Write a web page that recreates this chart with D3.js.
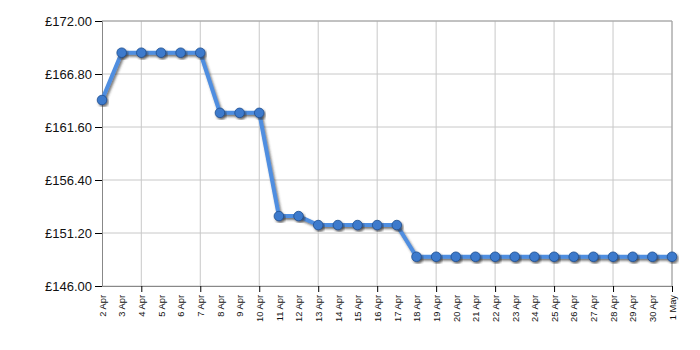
<!DOCTYPE html>
<html>
<head>
<meta charset="utf-8">
<script src="https://cdn.jsdelivr.net/npm/d3@7"></script>
<style>
  body { margin: 0; background: #fff; }
  svg { display: block; font-family: "DejaVu Sans", Verdana, sans-serif; }
</style>
</head>
<body>
<svg width="700" height="350"></svg>
<script>
const dates = ['2 Apr', '3 Apr', '4 Apr', '5 Apr', '6 Apr', '7 Apr', '8 Apr', '9 Apr', '10 Apr',
  '11 Apr', '12 Apr', '13 Apr', '14 Apr', '15 Apr', '16 Apr', '17 Apr', '18 Apr', '19 Apr',
  '20 Apr', '21 Apr', '22 Apr', '23 Apr', '24 Apr', '25 Apr', '26 Apr', '27 Apr', '28 Apr',
  '29 Apr', '30 Apr', '1 May']
const prices = [164.25, 168.89, 168.89, 168.89, 168.89, 168.89, 162.99, 162.99, 162.99,
  152.86, 152.86, 151.98, 151.98, 151.98, 151.98, 151.98, 148.87, 148.87,
  148.87, 148.87, 148.87, 148.87, 148.87, 148.87, 148.87, 148.87, 148.87,
  148.87, 148.87, 148.87]
const yTicks = [146, 151.2, 156.4, 161.6, 166.8, 172]
const gridDates = ['4 Apr', '7 Apr', '10 Apr', '13 Apr', '16 Apr', '19 Apr', '22 Apr', '25 Apr', '28 Apr', '1 May']

const svg = d3.select('svg')
const margin = { top: 21, right: 28, bottom: 64, left: 102 }
const width = +svg.attr('width')
const height = +svg.attr('height')
const innerW = width - margin.left - margin.right
const innerH = height - margin.top - margin.bottom

const x = d3.scalePoint().domain(dates).range([0, innerW])
const y = d3.scaleLinear().domain([146, 172]).range([innerH, 0])

const defs = svg.append('defs')
const shadow = defs.append('filter').attr('id', 'shadow')
  .attr('x', '-20%').attr('y', '-20%').attr('width', '140%').attr('height', '140%')
shadow.append('feDropShadow')
  .attr('dx', 1.5).attr('dy', 2).attr('stdDeviation', 0.9)
  .attr('flood-color', '#333').attr('flood-opacity', 0.65)

const g = svg.append('g').attr('transform', `translate(${margin.left},${margin.top})`)

// grid
g.append('g').selectAll('line').data(yTicks).join('line')
  .attr('x1', 0).attr('x2', innerW)
  .attr('y1', d => y(d)).attr('y2', d => y(d))
  .attr('stroke', '#c8c8c8')
g.append('g').selectAll('line').data(gridDates).join('line')
  .attr('x1', d => x(d)).attr('x2', d => x(d))
  .attr('y1', 0).attr('y2', innerH)
  .attr('stroke', '#c8c8c8')

// frame
g.append('line').attr('x1', 0).attr('x2', innerW).attr('y1', 0).attr('y2', 0).attr('stroke', '#a0a0a0')
g.append('line').attr('x1', innerW).attr('x2', innerW).attr('y1', 0).attr('y2', innerH).attr('stroke', '#a0a0a0')

// y axis
const yAxis = g.append('g')
  .call(d3.axisLeft(y).tickValues(yTicks).tickSize(7).tickPadding(3).tickFormat(d => '£' + d.toFixed(2)))
yAxis.select('.domain').attr('stroke', '#888')
yAxis.selectAll('.tick line').attr('stroke', '#000')
yAxis.selectAll('text').attr('font-size', 13).attr('fill', '#111').attr('font-family', null)

// x axis
const xAxis = g.append('g').attr('transform', `translate(0,${innerH})`)
  .call(d3.axisBottom(x).tickSizeOuter(0).tickSize(0))
xAxis.select('.domain').attr('stroke', '#888')
xAxis.selectAll('.tick text')
  .attr('font-size', 9.3).attr('fill', '#111').attr('font-family', null)
  .attr('text-anchor', 'end')
  .attr('transform', 'rotate(-90)')
  .attr('x', -9).attr('y', 0).attr('dy', '0.35em')
xAxis.selectAll('.tick').filter(d => gridDates.includes(d))
  .append('line').attr('y2', 6).attr('stroke', '#000')

// series
const data = dates.map((d, i) => ({ date: d, price: prices[i] }))
const line = d3.line().x(d => x(d.date)).y(d => y(d.price))

g.append('path').datum(data)
  .attr('d', line)
  .attr('fill', 'none')
  .attr('stroke', '#4f8ee0')
  .attr('stroke-width', 4)
  .attr('stroke-linejoin', 'round')
  .attr('filter', 'url(#shadow)')

g.append('g').selectAll('circle').data(data).join('circle')
  .attr('cx', d => x(d.date))
  .attr('cy', d => y(d.price))
  .attr('r', 4.8)
  .attr('fill', '#3c7acc')
  .attr('stroke', '#1f4f8f')
  .attr('stroke-width', 0.8)
  .attr('filter', 'url(#shadow)')
</script>
</body>
</html>
